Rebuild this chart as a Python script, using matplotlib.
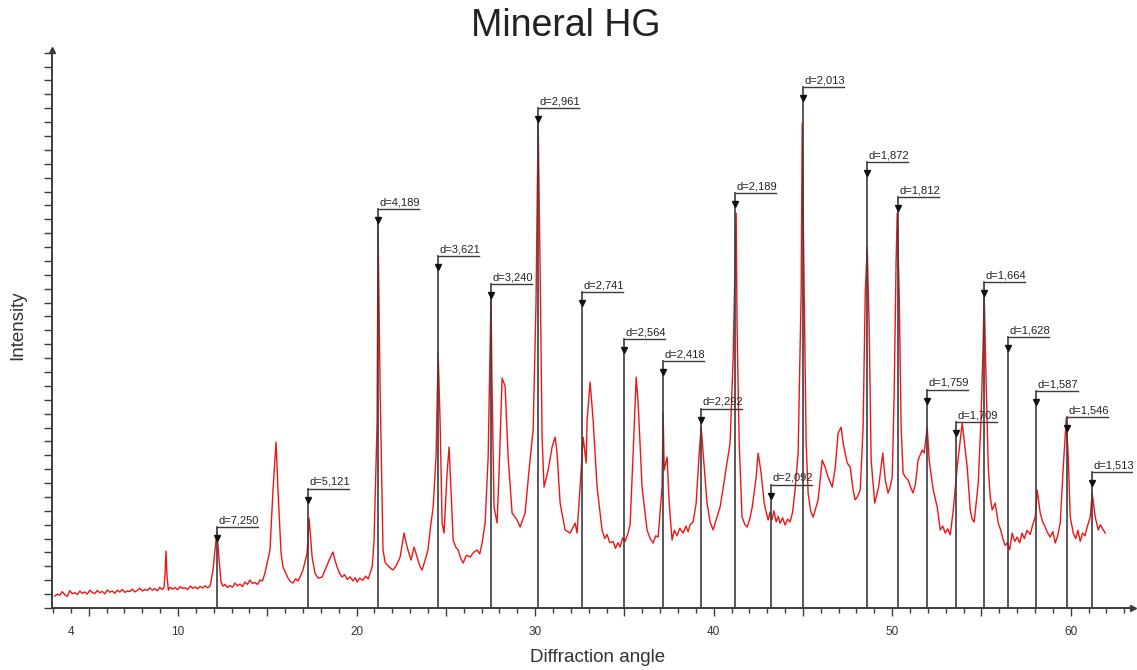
import matplotlib
matplotlib.use("Agg")
import matplotlib.pyplot as plt
from matplotlib.transforms import ScaledTranslation

plt.rcParams["font.family"] = ["Liberation Sans", "DejaVu Sans"]

two_theta = [
    3.10, 3.24, 3.38, 3.52, 3.66, 3.80, 3.94, 4.08, 4.22, 4.36, 4.50, 4.64, 4.78, 4.92, 5.06, 5.20, 5.34, 5.48, 5.62, 5.76,
    5.90, 6.04, 6.18, 6.32, 6.46, 6.60, 6.74, 6.88, 7.02, 7.16, 7.30, 7.44, 7.58, 7.72, 7.86, 8.00, 8.14, 8.28, 8.42, 8.56,
    8.70, 8.84, 8.98, 9.12, 9.22, 9.27, 9.33, 9.38, 9.46, 9.56, 9.70, 9.84, 9.98, 10.12, 10.26, 10.40, 10.54, 10.68, 10.82, 10.96,
    11.10, 11.24, 11.38, 11.52, 11.66, 11.80, 11.96, 12.07, 12.18, 12.30, 12.41, 12.52, 12.63, 12.77, 12.91, 13.05, 13.19, 13.33, 13.47, 13.61,
    13.75, 13.89, 14.03, 14.17, 14.31, 14.45, 14.59, 14.73, 14.87, 15.15, 15.32, 15.49, 15.60, 15.77, 15.88, 16.16, 16.30, 16.44, 16.58, 16.72,
    16.86, 17.00, 17.23, 17.34, 17.51, 17.67, 17.85, 18.07, 18.22, 18.40, 18.55, 18.68, 18.80, 18.91, 19.05, 19.19, 19.33, 19.48, 19.64, 19.80,
    19.93, 20.03, 20.18, 20.36, 20.50, 20.65, 20.76, 20.88, 20.98, 21.15, 21.20, 21.32, 21.48, 21.60, 21.71, 21.88, 22.04, 22.20, 22.44, 22.66,
    22.83, 23.05, 23.22, 23.44, 23.55, 23.67, 23.84, 24.00, 24.12, 24.29, 24.45, 24.57, 24.68, 24.79, 24.90, 25.07, 25.18, 25.29, 25.41, 25.55,
    25.69, 25.83, 25.97, 26.15, 26.36, 26.55, 26.75, 26.90, 27.03, 27.20, 27.37, 27.53, 27.59, 27.70, 27.87, 27.98, 28.15, 28.32, 28.49, 28.71,
    28.99, 29.16, 29.44, 29.66, 29.89, 30.05, 30.17, 30.28, 30.39, 30.50, 30.73, 30.95, 31.12, 31.23, 31.40, 31.68, 31.96, 32.24, 32.35, 32.58,
    32.69, 32.86, 32.91, 33.08, 33.25, 33.47, 33.75, 33.90, 34.03, 34.18, 34.37, 34.50, 34.64, 34.76, 34.90, 35.04, 35.18, 35.32, 35.49, 35.66,
    35.77, 35.99, 36.27, 36.45, 36.61, 36.75, 36.89, 37.11, 37.17, 37.23, 37.39, 37.51, 37.67, 37.80, 37.95, 38.10, 38.29, 38.45, 38.57, 38.68,
    38.85, 39.02, 39.19, 39.30, 39.41, 39.63, 39.80, 39.97, 40.15, 40.36, 40.55, 40.70, 40.92, 41.09, 41.26, 41.31, 41.43, 41.59, 41.75, 41.88,
    42.02, 42.16, 42.38, 42.49, 42.66, 42.83, 42.94, 43.05, 43.16, 43.28, 43.38, 43.50, 43.62, 43.72, 43.86, 44.00, 44.14, 44.28, 44.42, 44.56,
    44.73, 44.90, 44.96, 45.07, 45.18, 45.29, 45.43, 45.57, 45.72, 45.85, 46.08, 46.24, 46.41, 46.64, 46.81, 46.97, 47.14, 47.25, 47.48, 47.65,
    47.81, 47.92, 48.04, 48.21, 48.37, 48.49, 48.60, 48.71, 48.82, 49.02, 49.24, 49.47, 49.61, 49.77, 49.88, 50.00, 50.11, 50.22, 50.28, 50.39,
    50.50, 50.61, 50.75, 50.89, 51.03, 51.17, 51.31, 51.45, 51.68, 51.79, 51.96, 52.07, 52.20, 52.30, 52.52, 52.69, 52.83, 52.97, 53.11, 53.25,
    53.42, 53.64, 53.92, 54.20, 54.37, 54.48, 54.59, 54.82, 54.98, 55.10, 55.15, 55.26, 55.38, 55.49, 55.60, 55.77, 55.94, 56.08, 56.22, 56.33,
    56.44, 56.58, 56.72, 56.86, 57.00, 57.14, 57.27, 57.40, 57.55, 57.73, 57.87, 58.01, 58.12, 58.29, 58.43, 58.57, 58.71, 58.85, 59.00, 59.13,
    59.27, 59.41, 59.58, 59.75, 59.86, 59.97, 60.14, 60.28, 60.40, 60.53, 60.66, 60.80, 60.92, 61.09, 61.20, 61.37, 61.54, 61.65, 61.76, 61.93,
]
intensity = [
    86, 100, 92, 118, 96, 84, 125, 104, 110, 98, 122, 106, 116, 100, 128, 112, 104, 126, 110, 120,
    102, 130, 114, 122, 106, 128, 115, 134, 112, 124, 118, 136, 116, 128, 142, 122, 134, 126, 146, 128,
    140, 124, 150, 132, 150, 238, 410, 238, 128, 150, 136, 148, 132, 154, 140, 146, 134, 158, 142, 152,
    138, 156, 144, 160, 146, 158, 274, 418, 547, 346, 187, 158, 170, 148, 162, 150, 180, 160, 172, 155,
    187, 170, 202, 176, 185, 170, 202, 195, 252, 418, 850, 1195, 850, 396, 295, 216, 190, 180, 210, 195,
    230, 274, 396, 648, 367, 252, 215, 223, 270, 324, 370, 403, 340, 295, 250, 223, 240, 205, 225, 195,
    218, 187, 215, 200, 230, 210, 250, 300, 490, 1332, 2772, 1570, 418, 330, 310, 290, 274, 300, 367, 540,
    439, 346, 439, 346, 300, 274, 346, 420, 562, 727, 1087, 1836, 1332, 612, 540, 972, 1159, 850, 490, 440,
    418, 360, 324, 380, 367, 400, 418, 390, 468, 612, 1087, 2254, 1570, 727, 612, 972, 1656, 1598, 1087, 684,
    634, 583, 684, 994, 1282, 2196, 3514, 2434, 1231, 871, 994, 1159, 1231, 1116, 756, 562, 540, 612, 540, 994,
    1231, 1044, 1354, 1627, 1354, 871, 562, 500, 530, 470, 480, 430, 470, 440, 505, 480, 530, 600, 1116, 1663,
    1476, 871, 562, 500, 468, 520, 511, 871, 1404, 994, 1087, 756, 490, 560, 520, 575, 540, 590, 550, 600,
    620, 756, 1116, 1303, 1116, 756, 620, 562, 640, 727, 880, 1008, 1188, 1800, 2844, 2023, 1188, 655, 600, 583,
    640, 727, 943, 1116, 972, 756, 690, 634, 690, 640, 700, 620, 660, 610, 650, 598, 640, 620, 690, 850,
    1116, 2268, 3492, 2268, 1188, 828, 700, 655, 720, 778, 1066, 1015, 943, 871, 1015, 1260, 1303, 1188, 1044, 1015,
    850, 780, 799, 850, 1303, 2268, 2599, 2023, 1066, 756, 871, 1116, 922, 828, 870, 943, 1548, 2506, 2844, 2268,
    1303, 972, 940, 922, 870, 828, 900, 1066, 1138, 1116, 1303, 1066, 940, 850, 727, 562, 590, 540, 570, 526,
    706, 1015, 1332, 1015, 706, 640, 619, 900, 1375, 1951, 2275, 1620, 1015, 800, 706, 756, 612, 560, 490, 450,
    470, 420, 540, 480, 511, 470, 540, 500, 560, 530, 600, 655, 850, 684, 620, 583, 540, 511, 550, 468,
    520, 612, 1015, 1368, 1087, 655, 540, 500, 560, 480, 540, 520, 583, 655, 828, 655, 562, 600, 576, 540,
]

# reference lines with d-spacing labels
stick_2theta = [12.20, 17.30, 21.19, 24.56, 27.51, 30.16, 32.64, 34.97, 37.15, 39.28, 41.21,
                43.21, 45.00, 48.60, 50.32, 51.94, 53.58, 55.15, 56.48, 58.08, 59.77, 61.21]
stick_height = [583, 857, 2873, 2534, 2333, 3600, 2275, 1937, 1778, 1433, 2988,
                886, 3751, 3211, 2959, 1570, 1339, 2347, 1951, 1562, 1375, 979]
stick_labels = ["d=7,250", "d=5,121", "d=4,189", "d=3,621", "d=3,240", "d=2,961", "d=2,741",
                "d=2,564", "d=2,418", "d=2,292", "d=2,189", "d=2,092", "d=2,013", "d=1,872",
                "d=1,812", "d=1,759", "d=1,709", "d=1,664", "d=1,628", "d=1,587", "d=1,546",
                "d=1,513"]

x_labeled = [4, 10, 20, 30, 40, 50, 60]

assert len(two_theta) == len(intensity), (len(two_theta), len(intensity))

fig = plt.figure(figsize=(11.37, 6.70), dpi=100)
ax = fig.add_axes([0.0457, 0.0925, 0.951, 0.833])

ax.plot(two_theta, intensity, color="#f01414", lw=1.0, zorder=2)

axis_col = "#3c3c3c"
down = ScaledTranslation(0, -8 / 72, fig.dpi_scale_trans)
for x, h, lab in zip(stick_2theta, stick_height, stick_labels):
    ax.plot([x, x], [0, h], color=axis_col, lw=1.2, zorder=3)
    ax.plot([x, x + 2.3], [h, h], color=axis_col, lw=1.0, zorder=3)
    ax.plot([x], [h], marker="v", ms=5, color="#111111", transform=ax.transData + down,
            zorder=4, clip_on=False)
    ax.annotate(lab, xy=(x, h), xytext=(1, 1.5), textcoords="offset points",
                fontsize=8, ha="left", va="bottom", color="#222222")

ax.set_xlim(2.94, 63.5)
ax.set_ylim(0, 4020)

for side in ["top", "right"]:
    ax.spines[side].set_visible(False)
for side in ["left", "bottom"]:
    ax.spines[side].set_color(axis_col)
    ax.spines[side].set_linewidth(1.4)

# arrows at the ends of the axes
ax.plot([0], [1], marker="^", ms=5, color=axis_col, transform=ax.transAxes, clip_on=False)
ax.plot([1], [0], marker=">", ms=5, color=axis_col, transform=ax.transAxes, clip_on=False)

ax.set_xticks(list(range(5, 64, 5)) + [4])
ax.set_xticklabels([str(v) if v in x_labeled else "" for v in range(5, 64, 5)] + ["4"])
ax.set_xticks(range(3, 64), minor=True)
ax.tick_params(axis="x", which="major", length=6, width=1, color=axis_col,
               labelsize=8.5, labelcolor="#333333", pad=7)
ax.tick_params(axis="x", which="minor", length=3.5, width=1, color=axis_col)
ax.xaxis.get_major_ticks()[-1].tick1line.set_markersize(3.5)

ax.set_yticks(range(0, 4001, 100))
ax.tick_params(axis="y", which="major", length=5.5, width=1, color=axis_col, labelleft=False)

fig.text(0.498, 1 - 26 / 670, "Mineral HG", fontsize=27, ha="center", va="center", color="#222222")
fig.text(598 / 1137, 1 - 657 / 670, "Diffraction angle", fontsize=13.5, ha="center", va="center",
         color="#333333")
fig.text(18 / 1137, 1 - 325 / 670, "Intensity", fontsize=13.5, rotation=90, ha="center",
         va="center", color="#333333")

fig.savefig("out.png", dpi=100)
